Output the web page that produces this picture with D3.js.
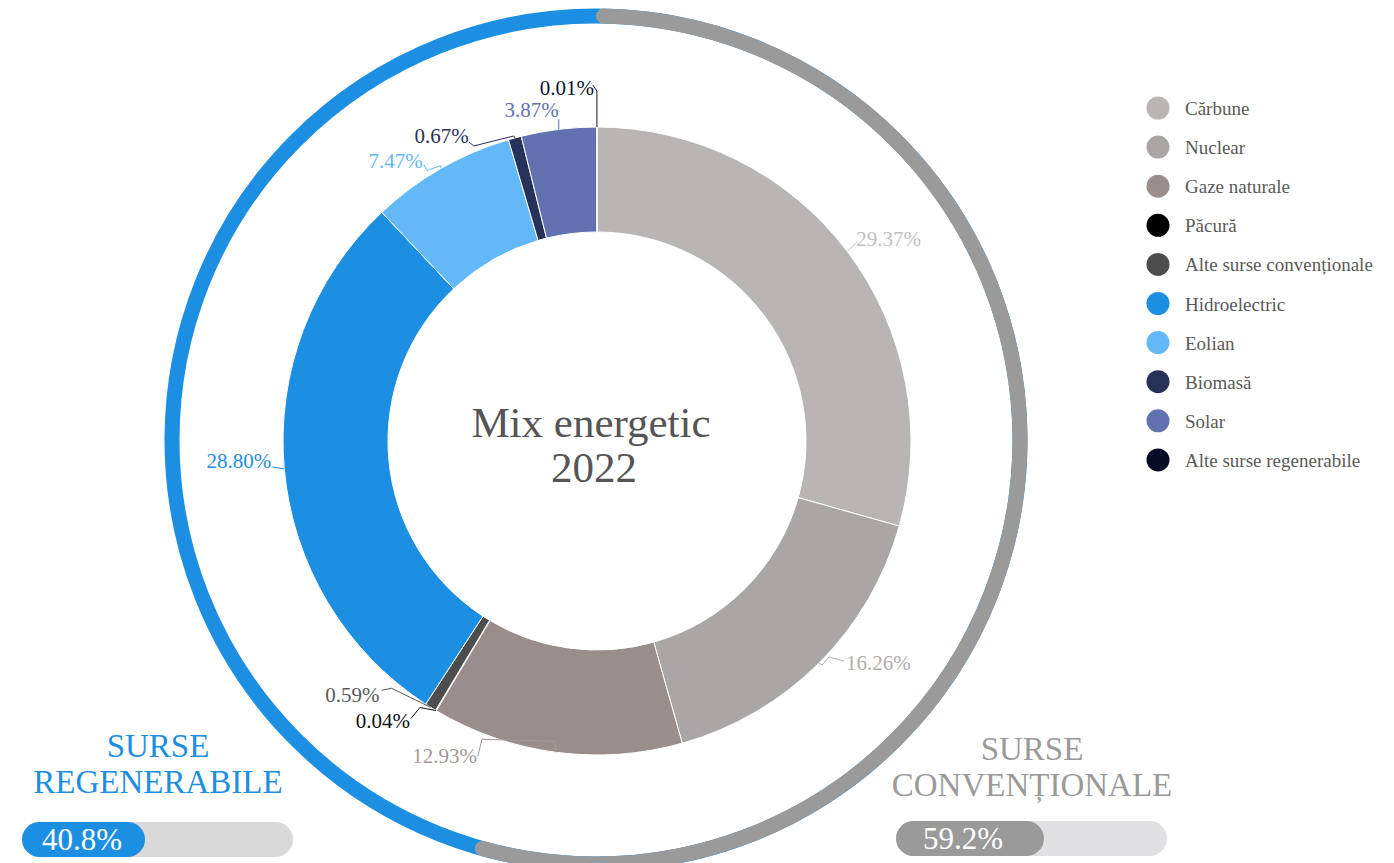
<!DOCTYPE html>
<html>
<head>
<meta charset="utf-8">
<script src="https://cdn.jsdelivr.net/npm/d3@7"></script>
<style>
  body { margin: 0; background: #fff; }
  svg { display: block; font-family: "Liberation Serif", "DejaVu Serif", serif; }
</style>
</head>
<body>
<div id="chart"></div>
<script>
// energy mix 2022, share of production (%)
const sources = ["Cărbune", "Nuclear", "Gaze naturale", "Păcură", "Alte surse convenționale",
  "Hidroelectric", "Eolian", "Biomasă", "Solar", "Alte surse regenerabile"];
const shares = [29.37, 16.26, 12.93, 0.04, 0.59, 28.80, 7.47, 0.67, 3.87, 0.01];
const colors = ["#b9b5b4", "#aba6a6", "#9a8e8d", "#000000", "#4d4d4d",
  "#1c8fe3", "#63b8f8", "#273259", "#6272b0", "#050c24"];
const labelColors = ["#c3bfbf", "#b3adad", "#a39a99", "#111111", "#5a5a5a",
  "#1c8fe3", "#63b8f8", "#273259", "#6272b0", "#0c1330"];

// group summary (text shown and bar fill)
const groups = ["SURSE\nREGENERABILE", "SURSE\nCONVENȚIONALE"];
const groupText = ["40.8%", "59.2%"];
const groupFill = [45.4, 54.6];
const groupColors = ["#1c8fe3", "#9a9a9a"];
const trackColors = ["#d9d9d9", "#e1e1e3"];

const width = 1394, height = 863;
const cx = 597, cy = 441;
const rOuter = 314, rInner = 209;

const svg = d3.select("#chart").append("svg")
  .attr("width", width)
  .attr("height", height);

// outer ring: blue full circle, grey conventional share on top
const ringR = 424, ringW = 15;
const ringAngle = d3.scaleLinear().domain([0, 100]).range([0, 2 * Math.PI]);
const ring = svg.append("g").attr("transform", `translate(${cx - 1},${cy - 1})`);
ring.append("circle")
  .attr("r", ringR)
  .attr("fill", "none")
  .attr("stroke", groupColors[0])
  .attr("stroke-width", ringW);
ring.append("path")
  .attr("d", d3.arc()
    .innerRadius(ringR - ringW / 2)
    .outerRadius(ringR + ringW / 2)
    .cornerRadius(ringW / 2)({startAngle: 0, endAngle: ringAngle(groupFill[1])}))
  .attr("fill", groupColors[1]);

// donut
const data = sources.map((s, i) => ({name: s, value: shares[i], i}));
const pie = d3.pie().sort(null).value(d => d.value);
const arcs = pie(data);
const arc = d3.arc().innerRadius(rInner).outerRadius(rOuter);

const g = svg.append("g").attr("transform", `translate(${cx},${cy})`);
g.selectAll("path.slice")
  .data(arcs)
  .join("path")
    .attr("class", "slice")
    .attr("d", arc)
    .attr("fill", d => colors[d.data.i])
    .attr("stroke", "#fff")
    .attr("stroke-width", 1);

// label layout: leader polyline + text offset, relative to the mid-point on the outer edge
const labelLayout = [
  {pts: [[0, 0], [10, -10]], dx: 9, dy: -5, anchor: "start"},
  {pts: [[0, 0], [3, 2], [10, -6], [25, -2]], dx: 27, dy: 7, anchor: "start"},
  {pts: [[0, 0], [-1, -11], [-74, -13], [-78, 4]], dx: -79, dy: 11, anchor: "end"},
  {pts: [[0, 0], [-16, -3], [-25, 8]], dx: -26, dy: 17, anchor: "end"},
  {pts: [[0, 0], [-39, -19], [-49, -17]], dx: -51, dy: -5, anchor: "end"},
  {pts: [[0, 0], [-12, -2]], dx: -13, dy: -1, anchor: "end"},
  {pts: [[0, 0], [0, -3], [-14, 2], [-17, -4]], dx: -18, dy: -1, anchor: "end"},
  {pts: [[0, 0], [-1, -2], [-41, 8], [-46, 4]], dx: -46, dy: 5, anchor: "end"},
  {pts: [[0, 0], [0, -10]], dx: 0, dy: -12, anchor: "end"},
  {pts: [[0, 0], [0, -36], [-4, -42]], dx: -3, dy: -32, anchor: "end"}
];

const edge = d => {
  const a = (d.startAngle + d.endAngle) / 2;
  return [Math.sin(a) * rOuter, -Math.cos(a) * rOuter];
};

const labels = g.selectAll("g.label")
  .data(arcs)
  .join("g")
    .attr("class", "label")
    .attr("transform", d => `translate(${edge(d)})`);

labels.append("path")
  .attr("d", d => d3.line()(labelLayout[d.data.i].pts))
  .attr("fill", "none")
  .attr("stroke", d => labelColors[d.data.i])
  .attr("stroke-width", 1);

labels.append("text")
  .attr("x", d => labelLayout[d.data.i].dx)
  .attr("y", d => labelLayout[d.data.i].dy)
  .attr("text-anchor", d => labelLayout[d.data.i].anchor)
  .attr("font-size", 21)
  .attr("fill", d => labelColors[d.data.i])
  .text(d => d.data.value.toFixed(2) + "%");

// centre title
const title = g.append("text")
  .attr("text-anchor", "middle")
  .attr("font-size", 43)
  .attr("fill", "#555");
title.append("tspan").attr("x", -6).attr("y", -4).text("Mix energetic");
title.append("tspan").attr("x", -3).attr("y", 41).text("2022");

// legend
const legend = svg.append("g").attr("transform", "translate(1158,108)");
const row = legend.selectAll("g")
  .data(sources)
  .join("g")
    .attr("transform", (d, i) => `translate(0,${i * 39.1})`);
row.append("circle")
  .attr("r", 11.5)
  .attr("fill", (d, i) => colors[i]);
row.append("text")
  .attr("x", 27)
  .attr("y", 7)
  .attr("font-size", 19)
  .attr("fill", "#5a5a5a")
  .text(d => d);

// group blocks at the bottom
const blocks = [
  {x: 22, w: 271, y: 822, textX: 158, titleY: 757, pctDx: 20},
  {x: 896, w: 271, y: 821, textX: 1032, titleY: 760, pctDx: 27}
];
const barX = d3.scaleLinear().domain([0, 100]);

blocks.forEach((b, i) => {
  const bg = svg.append("g");
  const t = bg.append("text")
    .attr("text-anchor", "middle")
    .attr("font-size", 33)
    .attr("fill", groupColors[i]);
  groups[i].split("\n").forEach((line, j) => {
    t.append("tspan").attr("x", b.textX).attr("y", b.titleY + j * 36).text(line);
  });

  barX.range([0, b.w]);
  const h = 35;
  bg.append("rect")
    .attr("x", b.x).attr("y", b.y)
    .attr("width", b.w).attr("height", h)
    .attr("rx", h / 2)
    .attr("fill", trackColors[i]);
  bg.append("rect")
    .attr("x", b.x).attr("y", b.y)
    .attr("width", barX(groupFill[i])).attr("height", h)
    .attr("rx", h / 2)
    .attr("fill", groupColors[i]);
  bg.append("text")
    .attr("x", b.x + b.pctDx)
    .attr("y", b.y + 28)
    .attr("font-size", 31)
    .attr("fill", "#fff")
    .text(groupText[i]);
});
</script>
</body>
</html>
